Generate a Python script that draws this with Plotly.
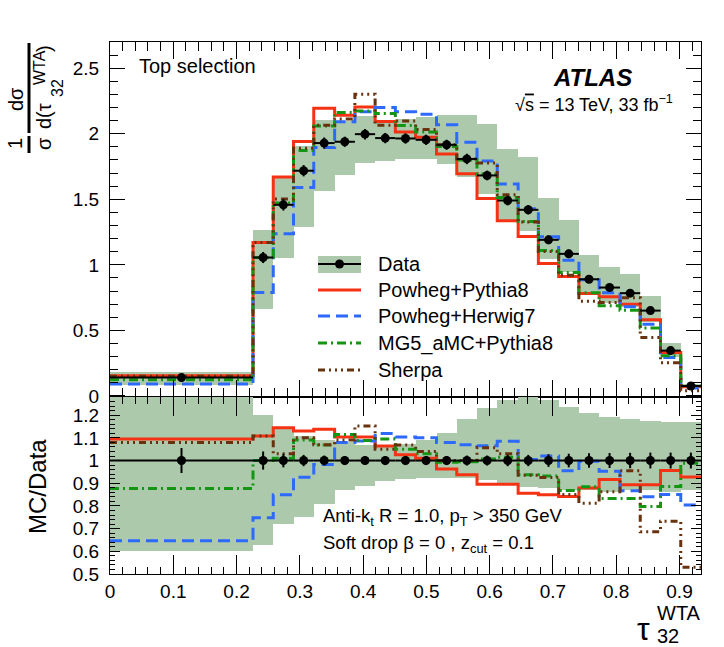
import plotly.graph_objects as go

# ---------------- data ----------------
edges = [0.0, 0.226, 0.258, 0.290, 0.322, 0.355, 0.387, 0.419, 0.451, 0.483, 0.516,
         0.548, 0.580, 0.612, 0.645, 0.677, 0.709, 0.741, 0.773, 0.806, 0.838, 0.870,
         0.902, 0.934]
data = [0.14, 1.056, 1.458, 1.718, 1.929, 1.939, 1.997, 1.967, 1.964, 1.954, 1.916,
        1.808, 1.682, 1.491, 1.42, 1.191, 1.084, 0.890, 0.827, 0.784, 0.651, 0.346, 0.076]
data_rel_err = [0.055, 0.04, 0.03, 0.025, 0.022, 0.02, 0.02, 0.02, 0.02, 0.02, 0.02,
                0.022, 0.022, 0.025, 0.025, 0.028, 0.03, 0.032, 0.033, 0.034, 0.035, 0.035, 0.035]
band_hi = [1.28, 1.20, 1.14, 1.11, 1.09, 1.08, 1.07, 1.07, 1.075, 1.09, 1.12, 1.185,
           1.232, 1.265, 1.285, 1.265, 1.235, 1.21, 1.19, 1.182, 1.175, 1.17, 1.17]
band_lo = [0.60, 0.63, 0.72, 0.75, 0.81, 0.87, 0.89, 0.91, 0.92, 0.925, 0.925, 0.925,
           0.915, 0.90, 0.885, 0.88, 0.87, 0.87, 0.86, 0.87, 0.87, 0.86, 0.87]
ratio_powheg_pythia8 = [1.095, 1.108, 1.145, 1.13, 1.138, 1.104, 1.104, 1.064, 1.025, 1.01,
                        0.963, 0.937, 0.896, 0.896, 0.856, 0.849, 0.841, 0.879, 0.916,
                        0.893, 0.893, 0.956, 0.927]
ratio_powheg_herwig7 = [0.646, 0.748, 0.849, 0.926, 0.982, 1.079, 1.086, 1.119, 1.104, 1.10,
                        1.08, 1.07, 1.065, 1.085, 1.005, 1.02, 0.955, 0.997, 0.953, 0.867,
                        0.84, 0.85, 0.804]
ratio_mg5_pythia8 = [0.877, 1.0, 1.01, 1.09, 1.068, 1.115, 1.088, 1.095, 1.05, 1.03, 0.993,
                     0.995, 1.007, 1.015, 0.937, 0.932, 0.868, 0.884, 0.833, 0.833, 0.797,
                     0.886, 0.988]
ratio_sherpa = [1.079, 1.108, 1.03, 1.10, 1.07, 1.09, 1.152, 1.05, 1.068, 1.04, 1.0, 1.0,
                1.056, 1.03, 0.935, 0.925, 0.85, 0.812, 0.862, 0.955, 0.686, 0.733, 0.53]
x_ticks = [0, 0.1, 0.2, 0.3, 0.4, 0.5, 0.6, 0.7, 0.8, 0.9]

names = ["Powheg+Pythia8", "Powheg+Herwig7", "MG5_aMC+Pythia8", "Sherpa"]
ratios = [ratio_powheg_pythia8, ratio_powheg_herwig7, ratio_mg5_pythia8, ratio_sherpa]

# ---------------- styles ----------------
BAND = "rgb(172,201,172)"
COLORS = ["rgb(245,50,20)", "rgb(45,105,250)", "rgb(20,150,20)", "rgb(105,50,15)"]
DASHES = ["solid", "12px,6px", "9px,4px,2px,4px", "7px,4px,2px,4px,2px,4px,2px,4px"]
FONT = "Liberation Sans, Arial, Helvetica, sans-serif"

centers = [(edges[i] + edges[i + 1]) / 2 for i in range(len(data))]
widths = [edges[i + 1] - edges[i] for i in range(len(data))]
half = [w / 2 for w in widths]

fig = go.Figure()

# ----- top panel -----
fig.add_trace(go.Bar(x=centers, width=widths,
                     base=[d * l for d, l in zip(data, band_lo)],
                     y=[d * (h - l) for d, h, l in zip(data, band_hi, band_lo)],
                     marker=dict(color=BAND, line=dict(width=0)),
                     xaxis="x", yaxis="y", showlegend=False, hoverinfo="skip"))
for name, r, c, dsh in zip(names, ratios, COLORS, DASHES):
    vals = [d * q for d, q in zip(data, r)]
    fig.add_trace(go.Scatter(x=edges, y=vals + [vals[-1]], mode="lines",
                             line=dict(color=c, width=3, dash=dsh, shape="hv"),
                             xaxis="x", yaxis="y", name=name, showlegend=False))
fig.add_trace(go.Scatter(x=centers, y=data, mode="markers",
                         marker=dict(size=9, color="black"),
                         error_y=dict(type="data", array=[d * e for d, e in zip(data, data_rel_err)],
                                      thickness=2, width=0, color="black"),
                         error_x=dict(type="data", array=half, thickness=2, width=0, color="black"),
                         xaxis="x", yaxis="y", name="Data", showlegend=False))

# ----- ratio panel -----
fig.add_trace(go.Bar(x=centers, width=widths, base=band_lo,
                     y=[h - l for h, l in zip(band_hi, band_lo)],
                     marker=dict(color=BAND, line=dict(width=0)),
                     xaxis="x2", yaxis="y2", showlegend=False, hoverinfo="skip"))
for name, r, c, dsh in zip(names, ratios, COLORS, DASHES):
    fig.add_trace(go.Scatter(x=edges, y=list(r) + [r[-1]], mode="lines",
                             line=dict(color=c, width=3, dash=dsh, shape="hv"),
                             xaxis="x2", yaxis="y2", showlegend=False))
fig.add_trace(go.Scatter(x=centers, y=[1.0] * len(data), mode="markers",
                         marker=dict(size=9, color="black"),
                         error_y=dict(type="data", array=data_rel_err, thickness=2, width=0, color="black"),
                         error_x=dict(type="data", array=half, thickness=2, width=0, color="black"),
                         xaxis="x2", yaxis="y2", showlegend=False))

# ---------------- layout ----------------
L, R, T, B = 110, 23, 42, 73
W, H = 724, 647
PW, PH = W - L - R, H - T - B
SPLIT = 397


def PX(x):
    return (x - L) / PW


def PY(y):
    return (H - B - y) / PH


split = PY(SPLIT)

common = dict(showline=True, linecolor="black", linewidth=1, mirror="ticks",
              ticks="inside", tickcolor="black", tickwidth=1, showgrid=False,
              zeroline=False, tickfont=dict(family=FONT, size=19, color="black"))

fig.update_layout(
    width=W, height=H, margin=dict(l=L, r=R, t=T, b=B),
    paper_bgcolor="white", plot_bgcolor="white", barmode="overlay", bargap=0,
    showlegend=False, font=dict(family=FONT, color="black"),
    xaxis=dict(domain=[0, 1], anchor="y", range=[0, edges[-1]], tickvals=x_ticks,
               showticklabels=False, ticklen=17,
               minor=dict(dtick=0.02, tick0=0, ticklen=9, ticks="inside", tickcolor="black"),
               **common),
    yaxis=dict(domain=[split, 1], anchor="x", range=[-0.008, 2.7], dtick=0.5, tick0=0,
               ticklen=15, ticklabelstandoff=6,
               minor=dict(dtick=0.1, ticklen=8, ticks="inside", tickcolor="black"),
               **common),
    xaxis2=dict(domain=[0, 1], anchor="y2", range=[0, edges[-1]], tickvals=x_ticks,
                ticklen=19, ticklabelstandoff=0,
                minor=dict(dtick=0.02, tick0=0, ticklen=7, ticks="inside", tickcolor="black"),
                **common),
    yaxis2=dict(domain=[0, split], anchor="x2", range=[0.5, 1.28], dtick=0.1, tick0=0,
                ticklen=10, ticklabelstandoff=6,
                minor=dict(dtick=0.02, ticklen=5, ticks="inside", tickcolor="black"),
                **common),
)

ann = []
shapes = []


def text(x, y, s, size, xanchor="left", angle=0, **kw):
    ann.append(dict(x=PX(x), y=PY(y), xref="paper", yref="paper", text=s, showarrow=False,
                    xanchor=xanchor, yanchor="middle", textangle=angle, borderpad=0,
                    font=dict(family=FONT, size=size, color="black"), **kw))


# labels in the plot
text(138, 66, "Top selection", 20)
text(552, 77, "<b><i>ATLAS</i></b>", 24)
text(514, 104, "√<span style='text-decoration:overline'>s</span> = 13 TeV, 33 fb<sup>−1</sup>", 18)
text(322, 517, "Anti-k<sub>t</sub> R = 1.0, p<sub>T</sub> > 350 GeV", 18.5)
text(322, 544, "Soft drop β = 0 , z<sub>cut</sub> = 0.1", 18.5)

# legend
leg_y = [264, 290, 316, 343, 370]
leg_names = ["Data", "Powheg+Pythia8", "Powheg+Herwig7", "MG5_aMC+Pythia8", "Sherpa"]
shapes.append(dict(type="rect", xref="paper", yref="paper", x0=PX(318), x1=PX(361),
                   y0=PY(273), y1=PY(256), fillcolor=BAND, line=dict(width=0)))
shapes.append(dict(type="line", xref="paper", yref="paper", x0=PX(318), x1=PX(361),
                   y0=PY(264), y1=PY(264), line=dict(color="black", width=2)))
shapes.append(dict(type="circle", xref="paper", yref="paper", x0=PX(335), x1=PX(344),
                   y0=PY(268.5), y1=PY(259.5), fillcolor="black", line=dict(width=0)))
for yy, c, dsh in zip(leg_y[1:], COLORS, DASHES):
    shapes.append(dict(type="line", xref="paper", yref="paper", x0=PX(318), x1=PX(361),
                       y0=PY(yy), y1=PY(yy), line=dict(color=c, width=3, dash=dsh)))
for yy, nm in zip(leg_y, leg_names):
    text(377, yy, nm, 20)

# y-axis titles (fraction built from pieces)
text(15, 144, "1", 20, xanchor="center", angle=-90)
text(44, 144, "σ", 20, xanchor="center", angle=-90)
shapes.append(dict(type="line", xref="paper", yref="paper", x0=PX(29), x1=PX(29),
                   y0=PY(136), y1=PY(153), line=dict(color="black", width=3)))
text(16, 99, "dσ", 20, xanchor="center", angle=-90)
shapes.append(dict(type="line", xref="paper", yref="paper", x0=PX(29), x1=PX(29),
                   y0=PY(43), y1=PY(133), line=dict(color="black", width=3)))
text(44, 116, "d(τ", 20, xanchor="center", angle=-90)
text(58, 88, "32", 16, xanchor="center", angle=-90)
text(39, 68, "WTA", 16, xanchor="center", angle=-90)
text(44, 49, ")", 20, xanchor="center", angle=-90)

text(37, 487, "MC/Data", 24, xanchor="center", angle=-90)

# x-axis title
text(643, 629, "τ", 32, xanchor="center")
text(656, 613, "WTA", 20)
text(656, 636, "32", 20)

fig.update_layout(annotations=ann, shapes=shapes)
fig.write_html("out.html")
